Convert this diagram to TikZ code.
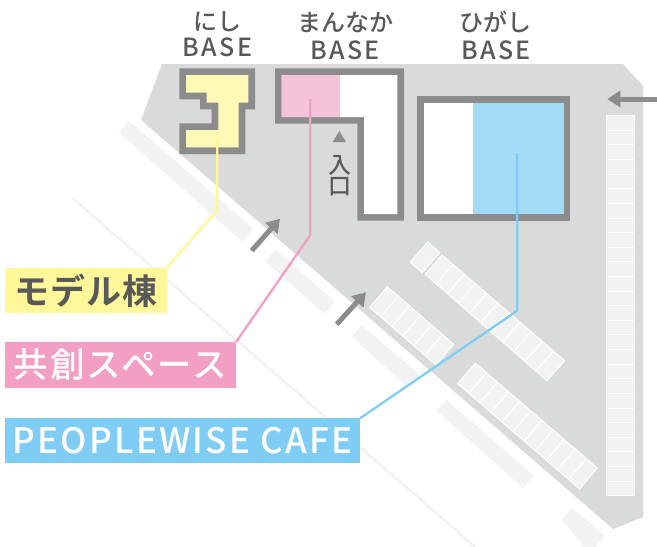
\documentclass[tikz,border=0pt]{standalone}
\usepackage{fontspec}
\usetikzlibrary{calc,arrows.meta}
\newfontfamily\jpfont{Noto Sans CJK JP Medium}
\newfontfamily\jpbase[LetterSpace=10]{Noto Sans CJK JP Medium}
\newfontfamily\jpbold[LetterSpace=3]{Noto Sans CJK JP Bold}
\newfontfamily\jplab[LetterSpace=6]{Noto Sans CJK JP Medium}
\newfontfamily\jplat[LetterSpace=6.5]{Noto Sans CJK JP Medium}
\definecolor{ground}{HTML}{D9DBDA}
\definecolor{wall}{HTML}{8C8C8C}
\definecolor{inktext}{HTML}{595959}
\definecolor{cell}{HTML}{F2F2F2}
\definecolor{yfill}{HTML}{FFF9B8}
\definecolor{pfill}{HTML}{F2C3D9}
\definecolor{bfill}{HTML}{A3DBF7}
\definecolor{ylab}{HTML}{FFF799}
\definecolor{plab}{HTML}{F29FC3}
\definecolor{blab}{HTML}{7FCDF5}
\tikzset{
 cellbox/.style={fill=cell,draw=white,line width=1pt},
 dirarrow/.style={draw=wall,line width=5pt,-{Triangle[length=13pt,width=16pt]}},
 leader/.style={line width=2.3pt,line join=miter},
 labelbox/.style={inner sep=0pt,outer sep=0pt,anchor=north west},
 titletext/.style={text=inktext,inner sep=0pt,font=\jpfont\fontsize{24}{26}\selectfont},
 basetext/.style={text=inktext,inner sep=0pt,font=\jpbase\fontsize{25}{26}\selectfont},
}
\newcommand{\parkstrip}[5]{%
 \coordinate (pa) at (#1); \coordinate (pb) at (#2); \coordinate (pc) at (#3); \coordinate (pd) at (#4);
 \foreach \i in {1,...,#5}{%
  \pgfmathsetmacro\sa{(\i-1)/#5}\pgfmathsetmacro\sb{\i/#5}%
  \path[cellbox] ($(pa)!\sa!(pb)$) -- ($(pa)!\sb!(pb)$) -- ($(pd)!\sb!(pc)$) -- ($(pd)!\sa!(pc)$) -- cycle;
 }}
\begin{document}
\begin{tikzpicture}[x=1pt,y=-1pt]
\useasboundingbox (0,0) rectangle (657,547);
\begin{scope}
\clip (0,0) rectangle (657,547);
% ground
\fill[ground] (162,64) -- (623,64) -- (643,86) -- (643,517) -- (613,529) -- (141,120) -- cycle;
% thin line and road bars
\draw[cell,line width=2.5pt] (72.7,198.3) -- (475,546.7);
\fill[cell] (129.3,121) -- (253.3,228.3) -- (242.3,241.7) -- (119,132.7) -- cycle;
\fill[cell] (275.7,249.3) -- (335,301.7) -- (324.3,314) -- (265.7,261.7) -- cycle;
\fill[cell] (361.7,325) -- (420,375) -- (407,387) -- (351.7,336.7) -- cycle;
\fill[cell] (446.7,400) -- (534.3,476) -- (523.3,488.3) -- (436.7,411) -- cycle;
\fill[cell] (571.7,507.7) -- (605,536) -- (590,553) -- (561.7,520) -- cycle;
% nishi
\fill[wall] (179.3,68.3) -- (255,68.3) -- (255,109.3) -- (245.3,109.3) -- (245.3,154) -- (179.3,154) -- (179.3,123.3) -- (211.7,123.3) -- (211.7,109.3) -- (200,109.3) -- (200,99.3) -- (179.3,99.3) -- cycle;
\fill[yfill] (186,75) -- (248.3,75) -- (248.3,102.7) -- (238.7,102.7) -- (238.7,147.3) -- (186,147.3) -- (186,130) -- (218.3,130) -- (218.3,102.7) -- (206.7,102.7) -- (206.7,92.7) -- (186,92.7) -- cycle;
% mannaka
\fill[wall] (275,68.3) -- (404,68.3) -- (404,220.7) -- (357.3,220.7) -- (357.3,123.7) -- (275,123.7) -- cycle;
\fill[white] (281.7,75) -- (397.3,75) -- (397.3,214) -- (364,214) -- (364,117) -- (281.7,117) -- cycle;
\fill[pfill] (281.7,75) rectangle (340,117);
% higashi
\fill[wall] (417.3,96) rectangle (570.3,220.7);
\fill[white] (424,102.7) rectangle (563.7,214);
\fill[bfill] (473,102.7) rectangle (563.7,214);
% parking
\foreach \k in {0,...,25}{%
 \pgfmathsetmacro\ya{115.7+\k*14.615}\pgfmathsetmacro\yb{115.7+(\k+1)*14.615}%
 \path[cellbox] (606.7,\ya) rectangle (634.7,\yb);
}
\parkstrip{427.7,242}{439.7,252.7}{422,272.7}{410.3,262}{1}
\parkstrip{442,255}{564.7,360.7}{547,380.7}{425.3,274.3}{11}
\parkstrip{387.3,286.7}{453.7,344.3}{436,365}{369.7,307.3}{6}
\parkstrip{475.3,363.3}{597.3,468}{579.7,489}{457.7,383.7}{11}
% arrows
\coordinate (arrA0) at (251.7,250.7); \coordinate (arrA1) at (280,218.7);
\coordinate (arrB0) at (336.7,324.3); \coordinate (arrB1) at (366,292.3);
\coordinate (arrC0) at (657,99); \coordinate (arrC1) at (607.3,99);
\draw[dirarrow] (arrA0) -- (arrA1);
\draw[dirarrow] (arrB0) -- (arrB1);
\draw[dirarrow] (arrC0) -- (arrC1);
\end{scope}
% entrance
\fill[wall] (339.3,131) -- (346,142) -- (332.7,142) -- cycle;
\node[text=inktext,inner sep=0pt,font=\jpfont\fontsize{23}{24}\selectfont] (iri) at (339.5,165) {入};
\node[text=inktext,inner sep=0pt,font=\jpfont\fontsize{23}{24}\selectfont] (kuchi) at (339.5,187) {口};
% titles
\node[titletext] (t1) at (217.5,22) {にし};
\node[basetext] (b1) at (217.5,47.7) {BASE};
\node[titletext] (t2) at (345,22.7) {まんなか};
\node[basetext] (b2) at (345,50) {BASE};
\node[titletext] (t3) at (495,22) {ひがし};
\node[basetext] (b3) at (496,50) {BASE};
% labels
\node[labelbox,fill=ylab,minimum width=161.7pt,minimum height=45.6pt,text=inktext,font=\jpbold\fontsize{35}{38}\selectfont] (lab1) at (5,267.7) {モデル棟};
\node[labelbox,fill=plab,minimum width=231pt,minimum height=45.7pt,text=white,font=\jplab\fontsize{34.5}{38}\selectfont] (lab2) at (5,342) {共創スペース};
\node[labelbox,fill=blab,minimum width=355pt,minimum height=45pt,text=white,font=\jplat\fontsize{35}{38}\selectfont] (lab3) at (5,418.3) {PEOPLEWISE CAFE};
% leaders
\coordinate (src1) at (217.3,138.3); \coordinate (kn1) at (217.3,210);
\coordinate (src2) at (310.3,99); \coordinate (kn2) at (310.3,235);
\coordinate (src3) at (517.3,153); \coordinate (kn3) at (517.3,310.7);
\draw[leader,draw=ylab] (src1) -- (kn1) -- (lab1.north east);
\draw[leader,draw=plab] (src2) -- (kn2) -- (lab2.north east);
\draw[leader,draw=blab] (src3) -- (kn3) -- (lab3.north east);
\end{tikzpicture}
\end{document}
